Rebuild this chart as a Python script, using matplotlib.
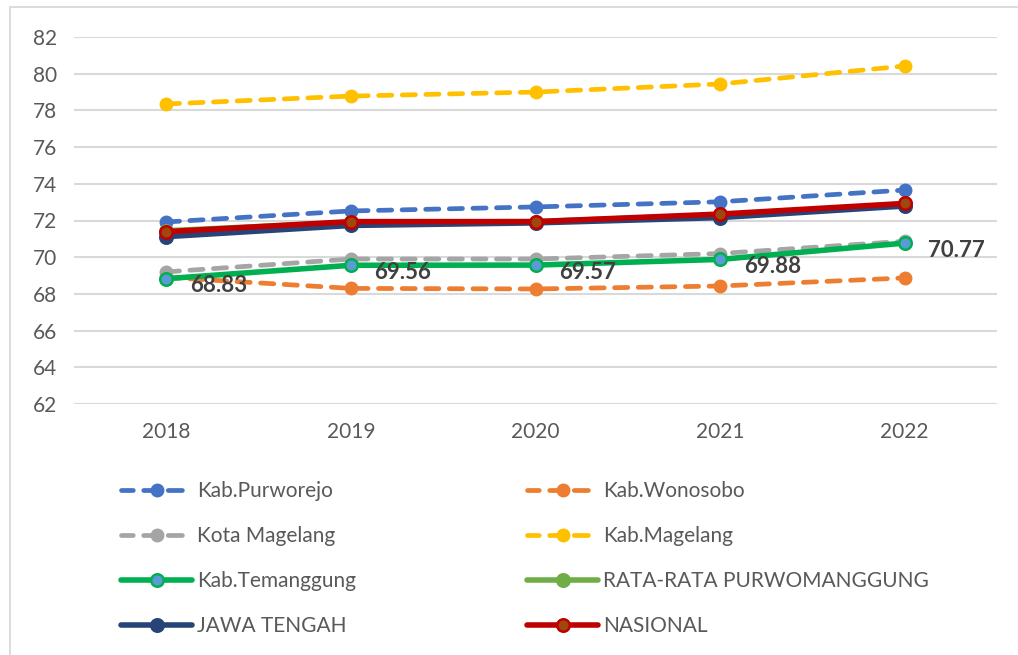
import matplotlib
matplotlib.use("Agg")
import matplotlib.pyplot as plt
from matplotlib.patches import Rectangle

plt.rcParams['font.family'] = ['Lato', 'DejaVu Sans']

years = ['2018', '2019', '2020', '2021', '2022']

purworejo = [71.92, 72.52, 72.74, 73.02, 73.66]
wonosobo = [68.90, 68.30, 68.27, 68.43, 68.87]
kota_magelang = [69.20, 69.90, 69.90, 70.20, 70.87]
kab_magelang = [78.35, 78.78, 79.00, 79.44, 80.42]
temanggung = [68.83, 69.56, 69.57, 69.88, 70.77]
rata_rata = [71.44, 71.90, 71.94, 72.30, 72.90]
jawa_tengah = [71.12, 71.73, 71.87, 72.16, 72.79]
nasional = [71.39, 71.94, 71.94, 72.35, 72.93]

grid_c = '#D9D9D9'
text_c = '#595959'

fig = plt.figure(figsize=(10.18, 6.55), dpi=100)
ax = fig.add_axes([74 / 1018, 1 - 404 / 655, (997 - 74) / 1018, (404 - 37) / 655])

# chart area border
fig.patches.append(Rectangle((10 / 1018, -0.1), 1.2, 1 - 7 / 655 + 0.1,
                             transform=fig.transFigure, fill=False,
                             edgecolor=grid_c, linewidth=1.3))

x = list(range(len(years)))
dash = (2.8, 2.2)

def dashed(vals, color, label):
    ln, = ax.plot(x, vals, color=color, lw=3.4, linestyle=(0, dash),
                  dash_capstyle='round', marker='o', markersize=9,
                  markerfacecolor=color, markeredgecolor=color, label=label,
                  zorder=3)
    return ln

def solid(vals, color, face, label):
    ln, = ax.plot(x, vals, color=color, lw=4, solid_capstyle='round',
                  marker='o', markersize=9, markerfacecolor=face,
                  markeredgecolor=color, markeredgewidth=1.8, label=label,
                  zorder=3)
    return ln

h_pur = dashed(purworejo, '#4472C4', 'Kab.Purworejo')
h_won = dashed(wonosobo, '#ED7D31', 'Kab.Wonosobo')
h_kot = dashed(kota_magelang, '#A5A5A5', 'Kota Magelang')
h_mag = dashed(kab_magelang, '#FFC000', 'Kab.Magelang')
h_tem = solid(temanggung, '#00B050', '#5B9BD5', 'Kab.Temanggung')
h_rat = solid(rata_rata, '#70AD47', '#70AD47', 'RATA-RATA PURWOMANGGUNG')
h_jat = solid(jawa_tengah, '#264478', '#264478', 'JAWA TENGAH')
h_nas = solid(nasional, '#C00000', '#9E480E', 'NASIONAL')

for xi, v in zip(x, temanggung):
    ax.annotate(f'{v:.2f}', (xi, v), xytext=(17, -5), textcoords='offset points',
                ha='left', va='center', fontsize=16, fontweight='bold',
                color='#404040', zorder=5)

ax.set_xlim(-0.5, 4.5)
ax.set_ylim(62, 82)
ax.set_yticks(range(62, 83, 2))
ax.set_xticks(x)
ax.set_xticklabels(years)
ax.grid(axis='y', color=grid_c, lw=1.5)
ax.set_axisbelow(True)
for s in ax.spines.values():
    s.set_visible(False)
ax.tick_params(length=0, labelsize=15, colors=text_c, pad=12)
ax.tick_params(axis='x', pad=13)


def proxy(h):
    # legend handle: dash - marker - dash like the spreadsheet legend
    p = plt.Line2D([], [], color=h.get_color(), lw=h.get_linewidth(),
                   marker='o', markersize=h.get_markersize(),
                   markerfacecolor=h.get_markerfacecolor(),
                   markeredgecolor=h.get_markeredgecolor(),
                   markeredgewidth=h.get_markeredgewidth())
    if h.get_linestyle() != '-':
        p.set_linestyle((0.5, (3.0, 2.2)))
        p.set_dash_capstyle('round')
    else:
        p.set_solid_capstyle('round')
    return p


leg_kw = dict(loc='upper left', frameon=False, fontsize=15, labelcolor=text_c,
              handlelength=3.4, handletextpad=0.25, labelspacing=1.19,
              borderpad=0)
fig.legend([proxy(h) for h in (h_pur, h_kot, h_tem, h_jat)],
           ['Kab.Purworejo', 'Kota Magelang', 'Kab.Temanggung', 'JAWA TENGAH'],
           bbox_to_anchor=(111 / 1018, 1 - 471 / 655), **leg_kw)
fig.legend([proxy(h) for h in (h_won, h_mag, h_rat, h_nas)],
           ['Kab.Wonosobo', 'Kab.Magelang', 'RATA-RATA PURWOMANGGUNG', 'NASIONAL'],
           bbox_to_anchor=(517 / 1018, 1 - 471 / 655), **leg_kw)

fig.savefig('out.png', dpi=100)
